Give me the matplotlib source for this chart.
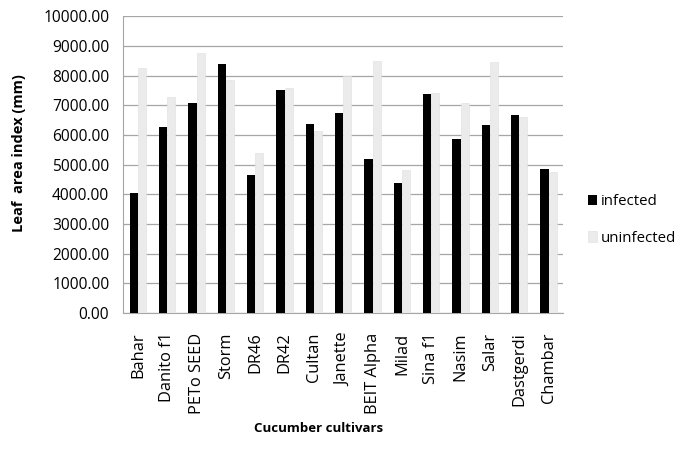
import numpy as np
import matplotlib.pyplot as plt

cultivars = ['Bahar', 'Danito f1', 'PETo SEED', 'Storm', 'DR46', 'DR42', 'Cultan',
             'Janette', 'BEIT Alpha', 'Milad', 'Sina f1', 'Nasim', 'Salar',
             'Dastgerdi', 'Chambar']
infected = [4050, 6260, 7070, 8380, 4650, 7510, 6360, 6730, 5190, 4380,
            7370, 5860, 6330, 6670, 4850]
uninfected = [8250, 7270, 8750, 7850, 5390, 7580, 6130, 7980, 8480, 4810,
              7400, 7070, 8450, 6600, 4750]

plt.rcParams['font.family'] = ['Open Sans', 'DejaVu Sans']

fig = plt.figure(figsize=(6.81, 4.63), dpi=100)
ax = fig.add_axes([0.181, 0.324, 0.646, 0.641])

x = np.arange(len(cultivars))
w = 0.28
ax.bar(x - w/2, infected, w, color='black', label='infected', zorder=3)
ax.bar(x + w/2, uninfected, w, color='#ebebeb', edgecolor='#e0e0e0', lw=0.4,
       label='uninfected', zorder=3)

ax.set_xlim(-0.5, len(cultivars) - 0.5)
ax.set_ylim(0, 10000)
ticks = np.arange(0, 10001, 1000)
ax.set_yticks(ticks)
ax.set_yticklabels([f'{v:.2f}' for v in ticks], fontsize=11.2)
ax.set_xticks(x)
ax.set_xticklabels(cultivars, rotation=90, fontsize=11.8)
ax.tick_params(axis='y', length=0, pad=10)
ax.tick_params(axis='x', length=0, pad=14)
ax.grid(axis='y', color='#a6a6a6', lw=0.9, zorder=0)
for s in ['top', 'right']:
    ax.spines[s].set_visible(False)
for s in ['left', 'bottom']:
    ax.spines[s].set_color('#a6a6a6')

ax.set_ylabel('Leaf  area index (mm)', fontsize=10.5, fontweight='bold')
ax.yaxis.set_label_coords(-0.222, 0.54)
fig.text(0.468, 0.068, 'Cucumber cultivars', ha='center', fontsize=9.5,
         fontweight='bold')

ax.legend(loc='upper left', bbox_to_anchor=(588/681, 1 - 194/463),
          bbox_transform=fig.transFigure, frameon=False, borderaxespad=0,
          borderpad=0, fontsize=10.8, handlelength=0.6, handleheight=0.7,
          handletextpad=0.25, labelspacing=1.45)

fig.savefig('out.png', dpi=100)
